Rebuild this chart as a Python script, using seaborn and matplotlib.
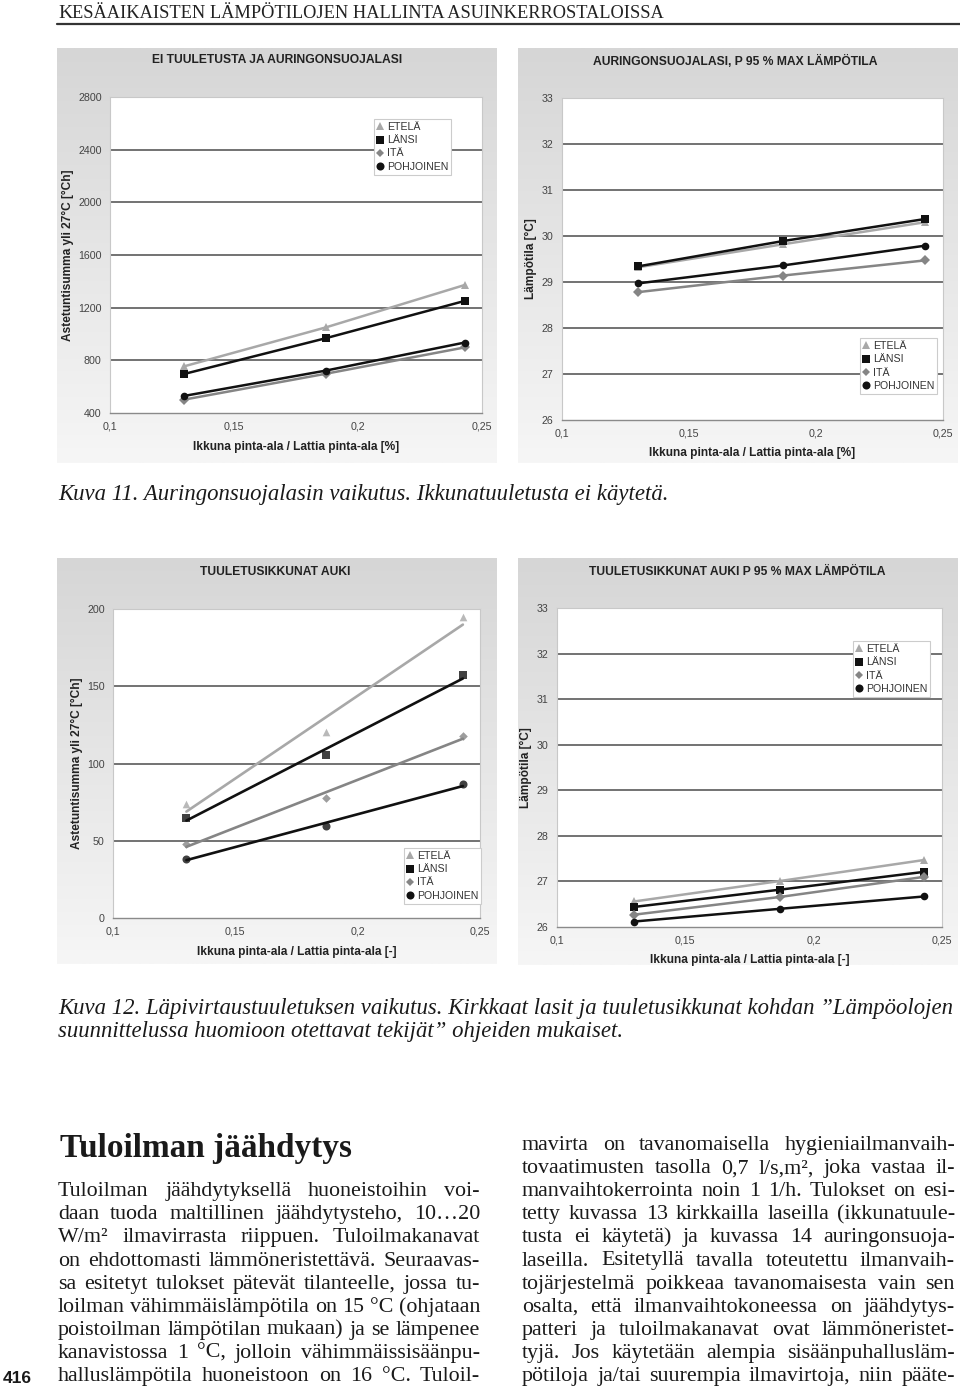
import matplotlib
matplotlib.use('Agg')
import matplotlib.pyplot as plt
import seaborn as sns
import pandas as pd
import numpy as np
from matplotlib.lines import Line2D
from matplotlib.colors import LinearSegmentedColormap

W, H = 960, 1388

# --- data -------------------------------------------------------------
suunnat = ['ETELÄ', 'LÄNSI', 'ITÄ', 'POHJOINEN']
ikkuna_suhde = [0.13, 0.187, 0.243]
x_ticks = [0.1, 0.15, 0.2, 0.25]
x_ticklabels = ['0,1', '0,15', '0,2', '0,25']

# Kuva 11, ei tuuletusta + auringonsuojalasi (astetuntisumma)
k11_ast_etela = [755, 1050, 1372]
k11_ast_lansi = [697, 968, 1251]
k11_ast_ita = [502, 698, 898]
k11_ast_pohjoinen = [530, 722, 935]

# Kuva 11, P 95 % max lampotila
k11_temp_etela = [29.32, 29.82, 30.30]
k11_temp_lansi = [29.34, 29.89, 30.37]
k11_temp_ita = [28.78, 29.14, 29.47]
k11_temp_pohjoinen = [28.97, 29.36, 29.79]

# Kuva 12, tuuletusikkunat auki (astetuntisumma, trendiviivat)
k12_ast_etela = [73.5, 120.6, 194.6]
k12_ast_lansi = [65, 105.5, 157]
k12_ast_ita = [48, 77.5, 118]
k12_ast_pohjoinen = [38.5, 59.5, 86.5]

# Kuva 12, P 95 % max lampotila
k12_temp_etela = [26.56, 27.01, 27.47]
k12_temp_lansi = [26.44, 26.82, 27.21]
k12_temp_ita = [26.27, 26.66, 27.10]
k12_temp_pohjoinen = [26.12, 26.40, 26.67]

y1_ticks = [400, 800, 1200, 1600, 2000, 2400, 2800]
y2_ticks = [26, 27, 28, 29, 30, 31, 32, 33]
y3_ticks = [0, 50, 100, 150, 200]


def to_long(etela, lansi, ita, pohjoinen):
    rows = []
    for name, vals in zip(suunnat, [etela, lansi, ita, pohjoinen]):
        for x, y in zip(ikkuna_suhde, vals):
            rows.append({'x': x, 'y': y, 'suunta': name})
    return pd.DataFrame(rows)


df11a = to_long(k11_ast_etela, k11_ast_lansi, k11_ast_ita, k11_ast_pohjoinen)
df11b = to_long(k11_temp_etela, k11_temp_lansi, k11_temp_ita, k11_temp_pohjoinen)
df12a = to_long(k12_ast_etela, k12_ast_lansi, k12_ast_ita, k12_ast_pohjoinen)
df12b = to_long(k12_temp_etela, k12_temp_lansi, k12_temp_ita, k12_temp_pohjoinen)

colors = {'ETELÄ': '#a8a8a8', 'LÄNSI': '#111111', 'ITÄ': '#858585', 'POHJOINEN': '#111111'}
markers = {'ETELÄ': '^', 'LÄNSI': 's', 'ITÄ': 'D', 'POHJOINEN': 'o'}
msizes = {'ETELÄ': 5.5, 'LÄNSI': 5.5, 'ITÄ': 4.4, 'POHJOINEN': 5.8}

sns.set_style('white')
plt.rcParams['font.family'] = ['Liberation Sans', 'DejaVu Sans']

fig = plt.figure(figsize=(W / 100, H / 100), dpi=100)
fig.patch.set_facecolor('white')
grad_cmap = LinearSegmentedColormap.from_list('panel', ['#d6d6d6', '#f6f6f6'])


def rect(l, t, r, b):
    return [l / W, 1 - b / H, (r - l) / W, (b - t) / H]


def ftext(x, y, s, **kw):
    return fig.text(x / W, 1 - y / H, s, **kw)


def draw_chart(panel, plot, title, title_xy, xlabel, xlabel_y, ylabel, ylabel_x,
               df, ylim, yticks, leg_xy, trend=False):
    pax = fig.add_axes(rect(*panel), zorder=0)
    pax.imshow(np.linspace(0, 1, 200).reshape(-1, 1), cmap=grad_cmap,
               aspect='auto', extent=[0, 1, 0, 1])
    pax.axis('off')

    ax = fig.add_axes(rect(*plot), zorder=1)
    ax.set_facecolor('white')
    for yt in yticks[1:-1]:
        ax.axhline(yt, color='#5a5a5a', lw=1.2, zorder=1)

    if trend:
        for name in suunnat:
            sub = df[df['suunta'] == name]
            sns.regplot(data=sub, x='x', y='y', ax=ax, ci=None, color=colors[name],
                        marker=markers[name],
                        scatter_kws={'s': msizes[name] ** 2, 'linewidths': 0, 'zorder': 3},
                        line_kws={'lw': 1.9, 'zorder': 2})
    else:
        sns.lineplot(data=df, x='x', y='y', hue='suunta', style='suunta',
                     hue_order=suunnat, style_order=suunnat, palette=colors,
                     markers=markers, dashes=False, estimator=None, legend=False,
                     linewidth=1.8, markersize=5.5, markeredgewidth=0, ax=ax, zorder=3)

    ax.set_xlim(0.1, 0.25)
    ax.set_ylim(*ylim)
    ax.set_xticks(x_ticks)
    ax.set_xticklabels(x_ticklabels)
    ax.set_yticks(yticks)
    ax.set_yticklabels([str(v) for v in yticks])
    ax.tick_params(length=0, labelsize=7.7, labelcolor='#444444', pad=6)
    for side in ['top', 'right', 'left']:
        ax.spines[side].set_color('#c8c8c8')
        ax.spines[side].set_linewidth(0.8)
    ax.spines['bottom'].set_color('#8a8a8a')
    ax.spines['bottom'].set_linewidth(1.0)

    ax.set_xlabel(xlabel, fontsize=8.6, fontweight='bold', color='#222222')
    ax.set_ylabel(ylabel, fontsize=8.6, fontweight='bold', color='#222222')
    ax.xaxis.set_label_coords(((plot[0] + plot[2]) / 2) / W, 1 - xlabel_y / H,
                              transform=fig.transFigure)
    ax.yaxis.set_label_coords(ylabel_x / W, 1 - ((plot[1] + plot[3]) / 2) / H,
                              transform=fig.transFigure)
    ax.xaxis.label.set_va('center')
    ax.yaxis.label.set_va('center')

    ftext(title_xy[0], title_xy[1], title, fontsize=8.7, fontweight='bold',
          color='#222222', ha='center', va='center')

    handles = [Line2D([], [], ls='none', marker=markers[n], color=colors[n],
                      markersize=msizes[n], markeredgewidth=0) for n in suunnat]
    leg = ax.legend(handles, suunnat, loc='upper left',
                    bbox_to_anchor=(leg_xy[0] / W, 1 - leg_xy[1] / H),
                    bbox_transform=fig.transFigure, fontsize=7.6, frameon=True,
                    fancybox=False, framealpha=1, edgecolor='#cccccc',
                    handlelength=0.6, handletextpad=0.3, labelspacing=0.3,
                    borderpad=0.3, borderaxespad=0)
    leg.get_frame().set_linewidth(0.8)
    for t in leg.get_texts():
        t.set_color('#333333')
    return ax


draw_chart((57, 48, 497, 463), (110, 97, 482, 413),
           'EI TUULETUSTA JA AURINGONSUOJALASI', (277, 60),
           'Ikkuna pinta-ala / Lattia pinta-ala [%]', 447,
           'Astetuntisumma yli 27°C [°Ch]', 68,
           df11a, (400, 2800), y1_ticks, (374, 119))

draw_chart((518, 48, 958, 463), (562, 98, 943, 420),
           'AURINGONSUOJALASI, P 95 % MAX LÄMPÖTILA', (735, 61),
           'Ikkuna pinta-ala / Lattia pinta-ala [%]', 453,
           'Lämpötila [°C]', 531,
           df11b, (26, 33), y2_ticks, (860, 338))

draw_chart((57, 558, 497, 964), (113, 609, 480, 918),
           'TUULETUSIKKUNAT AUKI', (275, 572),
           'Ikkuna pinta-ala / Lattia pinta-ala [-]', 952,
           'Astetuntisumma yli 27°C [°Ch]', 77,
           df12a, (0, 200), y3_ticks, (404, 848), trend=True)

draw_chart((518, 558, 958, 965), (557, 608, 942, 927),
           'TUULETUSIKKUNAT AUKI P 95 % MAX LÄMPÖTILA', (737, 572),
           'Ikkuna pinta-ala / Lattia pinta-ala [-]', 960,
           'Lämpötila [°C]', 526,
           df12b, (26, 33), y2_ticks, (853, 641))

# --- page text ---------------------------------------------------------
renderer = fig.canvas.get_renderer()
SERIF = ['Liberation Serif', 'DejaVu Serif']


def fit_size(s, target, size0, **kw):
    t = fig.text(0, 0, s, fontsize=size0, family=SERIF, **kw)
    w = t.get_window_extent(renderer).width
    t.remove()
    return size0 * target / w


def justified(line, x0, x1, y, size, **kw):
    words = line.split(' ')
    texts = [ftext(0, y, w, fontsize=size, family=SERIF, va='baseline',
                   color='#1a1a1a', **kw) for w in words]
    widths = [t.get_window_extent(renderer).width for t in texts]
    gap = (x1 - x0 - sum(widths)) / max(len(words) - 1, 1)
    x = x0
    for t, w in zip(texts, widths):
        t.set_x(x / W)
        x += w + gap


# running header
rest = 'ESÄAIKAISTEN LÄMPÖTILOJEN HALLINTA ASUINKERROSTALOISSA'
kt = ftext(58, 18, 'K', fontsize=14, family=SERIF, va='baseline', color='#222222')
kw_ = kt.get_window_extent(renderer).width
rs = fit_size(rest, 663 - 58 - kw_, 11)
ftext(58 + kw_, 18, rest, fontsize=rs, family=SERIF, va='baseline', color='#222222')
fig.add_artist(Line2D([57 / W, 1], [1 - 23.5 / H, 1 - 23.5 / H], color='#333333', lw=1.6))

# captions
cap11 = 'Kuva 11. Auringonsuojalasin vaikutus. Ikkunatuuletusta ei käytetä.'
cap12a = 'Kuva 12. Läpivirtaustuuletuksen vaikutus. Kirkkaat lasit ja tuuletusikkunat kohdan ”Lämpöolojen'
cap12b = 'suunnittelussa huomioon otettavat tekijät” ohjeiden mukaiset.'
cs = fit_size(cap12a, 955 - 58, 14, style='italic')
ftext(58, 500, cap11, fontsize=cs, family=SERIF, style='italic', va='baseline', color='#1a1a1a')
ftext(58, 1014, cap12a, fontsize=cs, family=SERIF, style='italic', va='baseline', color='#1a1a1a')
ftext(58, 1037, cap12b, fontsize=cs, family=SERIF, style='italic', va='baseline', color='#1a1a1a')

# heading
hs = fit_size('Tuloilman jäähdytys', 352 - 60, 24, weight='bold')
ftext(60, 1157, 'Tuloilman jäähdytys', fontsize=hs, family=SERIF, weight='bold',
      va='baseline', color='#1a1a1a')

left_lines = [
    'Tuloilman jäähdytyksellä huoneistoihin voi-',
    'daan tuoda maltillinen jäähdytysteho, 10…20',
    'W/m² ilmavirrasta riippuen. Tuloilmakanavat',
    'on ehdottomasti lämmöneristettävä. Seuraavas-',
    'sa esitetyt tulokset pätevät tilanteelle, jossa tu-',
    'loilman vähimmäislämpötila on 15 °C (ohjataan',
    'poistoilman lämpötilan mukaan) ja se lämpenee',
    'kanavistossa 1 °C, jolloin vähimmäissisäänpu-',
    'halluslämpötila huoneistoon on 16 °C. Tuloil-',
]
right_lines = [
    'mavirta on tavanomaisella hygieniailmanvaih-',
    'tovaatimusten tasolla 0,7 l/s,m², joka vastaa il-',
    'manvaihtokerrointa noin 1 1/h. Tulokset on esi-',
    'tetty kuvassa 13 kirkkailla laseilla (ikkunatuule-',
    'tusta ei käytetä) ja kuvassa 14 auringonsuoja-',
    'laseilla. Esitetyllä tavalla toteutettu ilmanvaih-',
    'tojärjestelmä poikkeaa tavanomaisesta vain sen',
    'osalta, että ilmanvaihtokoneessa on jäähdytys-',
    'patteri ja tuloilmakanavat ovat lämmöneristet-',
    'tyjä. Jos käytetään alempia sisäänpuhallusläm-',
    'pötiloja ja/tai suurempia ilmavirtoja, niin pääte-',
]
body_size = fit_size(right_lines[6], 955 - 522, 14) * 0.965
step = 23.1
last_base = 1381
for i, line in enumerate(left_lines):
    justified(line, 58, 480, last_base - (len(left_lines) - 1 - i) * step, body_size)
for i, line in enumerate(right_lines):
    justified(line, 522, 955, last_base - (len(right_lines) - 1 - i) * step, body_size)

ftext(3, 1383, '416', fontsize=12.5, fontweight='bold', va='baseline', color='#1a1a1a')

fig.savefig('out.png', dpi=100, facecolor='white')
